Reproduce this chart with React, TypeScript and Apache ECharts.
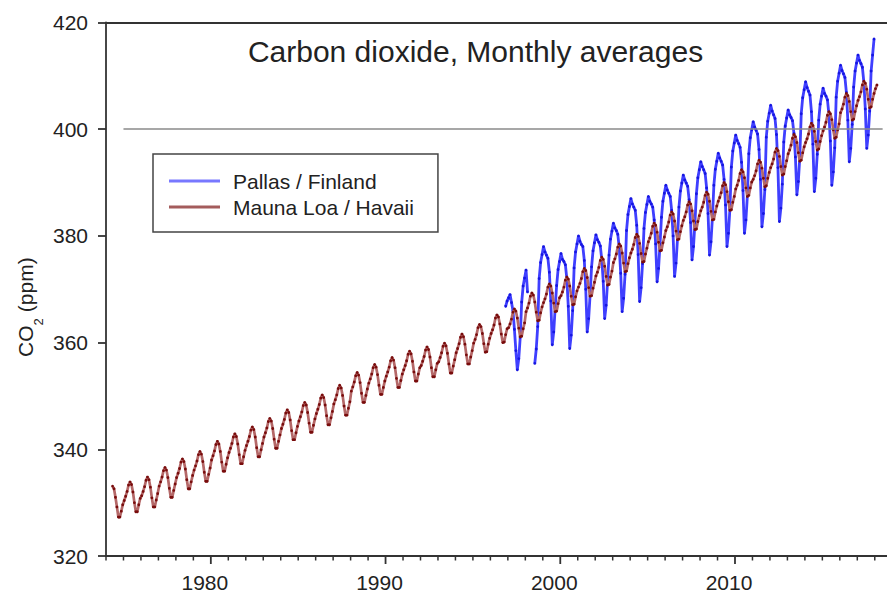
import React, { useEffect, useRef } from "react";
import * as echarts from "echarts";

// ---------- data ----------
const titleText = "Carbon dioxide, Monthly averages";
const pallasName = "Pallas / Finland";
const maunaLoaName = "Mauna Loa / Havaii";

const xMin = 1974;
const xMax = 2018.7;
const xLabelYears = [1980, 1990, 2000, 2010];
const minorTickYears = [
  1974, 1975, 1976, 1977, 1978, 1979, 1980, 1981, 1982, 1983, 1984, 1985, 1986, 1987, 1988, 1989,
  1990, 1991, 1992, 1993, 1994, 1995, 1996, 1997, 1998, 1999, 2000, 2001, 2002, 2003, 2004, 2005,
  2006, 2007, 2008, 2009, 2010, 2011, 2012, 2013, 2014, 2015, 2016, 2017, 2018,
];
const yMin = 320;
const yMax = 420;
const yStep = 20;

const referenceLevel = 400;
const referenceLineStart = 1975.0;
const referenceLineEnd = 2018.45;

// Mauna Loa monthly means, one row per year (Jan..Dec), first row = 1974
const maunaLoaStartYear = 1974;
const maunaLoaMonthly: (number | null)[][] = [
  [null, null, null, null, 333.1, 332.6, 331.0, 329.2, 327.3, 327.3, 328.4, 329.6],
  [330.4, 331.2, 332.1, 333.3, 333.9, 333.4, 332.0, 330.0, 328.3, 328.3, 329.6, 330.8],
  [331.3, 332.1, 333.0, 334.2, 334.8, 334.3, 332.9, 330.9, 329.2, 329.2, 330.5, 331.7],
  [333.1, 333.9, 334.8, 336.0, 336.6, 336.1, 334.7, 332.7, 331.0, 331.0, 332.3, 333.5],
  [334.7, 335.5, 336.4, 337.6, 338.2, 337.7, 336.3, 334.3, 332.6, 332.6, 333.9, 335.1],
  [336.1, 336.9, 337.8, 339.0, 339.6, 339.1, 337.7, 335.7, 334.0, 334.0, 335.3, 336.5],
  [338.0, 338.8, 339.7, 340.9, 341.5, 341.0, 339.6, 337.6, 335.9, 335.9, 337.2, 338.4],
  [339.4, 340.2, 341.1, 342.3, 342.9, 342.4, 341.0, 339.0, 337.3, 337.3, 338.6, 339.8],
  [340.7, 341.5, 342.4, 343.6, 344.2, 343.7, 342.3, 340.3, 338.6, 338.6, 339.9, 341.1],
  [342.3, 343.1, 344.0, 345.2, 345.8, 345.3, 343.9, 341.9, 340.2, 340.2, 341.5, 342.7],
  [343.9, 344.7, 345.6, 346.8, 347.4, 346.9, 345.5, 343.5, 341.8, 341.8, 343.1, 344.3],
  [345.3, 346.1, 347.0, 348.2, 348.8, 348.3, 346.9, 344.9, 343.2, 343.2, 344.5, 345.7],
  [346.7, 347.5, 348.4, 349.6, 350.2, 349.7, 348.3, 346.3, 344.6, 344.6, 345.9, 347.1],
  [348.5, 349.3, 350.2, 351.4, 352.0, 351.5, 350.1, 348.1, 346.4, 346.4, 347.7, 348.9],
  [350.9, 351.7, 352.6, 353.8, 354.4, 353.9, 352.5, 350.5, 348.8, 348.8, 350.1, 351.3],
  [352.4, 353.2, 354.1, 355.3, 355.9, 355.4, 354.0, 352.0, 350.3, 350.3, 351.6, 352.8],
  [353.7, 354.5, 355.4, 356.6, 357.2, 356.7, 355.3, 353.3, 351.6, 351.6, 352.9, 354.1],
  [354.9, 355.7, 356.6, 357.8, 358.4, 357.9, 356.5, 354.5, 352.8, 352.8, 354.1, 355.3],
  [355.7, 356.5, 357.4, 358.6, 359.2, 358.7, 357.3, 355.3, 353.6, 353.6, 354.9, 356.1],
  [356.4, 357.2, 358.1, 359.3, 359.9, 359.4, 358.0, 356.0, 354.3, 354.3, 355.6, 356.8],
  [358.1, 358.9, 359.8, 361.0, 361.6, 361.1, 359.7, 357.7, 356.0, 356.0, 357.3, 358.5],
  [359.9, 360.6, 361.5, 362.8, 363.4, 363.0, 361.7, 359.8, 358.2, 358.3, 359.7, 360.8],
  [361.7, 362.4, 363.3, 364.6, 365.2, 364.8, 363.5, 361.6, 360.0, 360.1, 361.5, 362.6],
  [362.8, 363.5, 364.4, 365.7, 366.3, 365.9, 364.6, 362.7, 361.1, 361.2, 362.6, 363.7],
  [365.8, 366.5, 367.4, 368.7, 369.3, 368.9, 367.6, 365.7, 364.1, 364.2, 365.6, 366.7],
  [367.5, 368.2, 369.1, 370.4, 371.0, 370.6, 369.3, 367.4, 365.8, 365.9, 367.3, 368.4],
  [368.8, 369.5, 370.4, 371.7, 372.3, 371.9, 370.6, 368.7, 367.1, 367.2, 368.6, 369.7],
  [370.4, 371.1, 372.0, 373.3, 373.9, 373.5, 372.2, 370.3, 368.7, 368.8, 370.2, 371.3],
  [372.5, 373.2, 374.1, 375.4, 376.0, 375.6, 374.3, 372.4, 370.8, 370.9, 372.3, 373.4],
  [375.0, 375.7, 376.6, 377.9, 378.5, 378.1, 376.8, 374.9, 373.3, 373.4, 374.8, 375.9],
  [376.8, 377.5, 378.4, 379.7, 380.3, 379.9, 378.6, 376.7, 375.1, 375.2, 376.6, 377.7],
  [378.9, 379.6, 380.5, 381.8, 382.4, 382.0, 380.7, 378.8, 377.2, 377.3, 378.7, 379.8],
  [381.0, 381.7, 382.6, 383.9, 384.5, 384.1, 382.8, 380.9, 379.3, 379.4, 380.8, 381.9],
  [382.9, 383.6, 384.5, 385.8, 386.4, 386.0, 384.7, 382.8, 381.2, 381.3, 382.7, 383.8],
  [384.7, 385.4, 386.3, 387.6, 388.2, 387.8, 386.5, 384.6, 383.0, 383.1, 384.5, 385.6],
  [386.5, 387.2, 388.1, 389.4, 390.0, 389.6, 388.3, 386.4, 384.8, 384.9, 386.3, 387.4],
  [388.8, 389.5, 390.4, 391.7, 392.4, 392.0, 390.9, 389.0, 387.4, 387.6, 389.0, 390.1],
  [390.6, 391.3, 392.2, 393.5, 394.2, 393.8, 392.7, 390.8, 389.2, 389.4, 390.8, 391.9],
  [392.8, 393.5, 394.4, 395.7, 396.4, 396.0, 394.9, 393.0, 391.4, 391.6, 393.0, 394.1],
  [395.4, 396.1, 397.0, 398.3, 399.0, 398.6, 397.5, 395.6, 394.0, 394.2, 395.6, 396.7],
  [397.5, 398.2, 399.1, 400.4, 401.1, 400.7, 399.6, 397.7, 396.1, 396.3, 397.7, 398.8],
  [399.7, 400.4, 401.3, 402.6, 403.3, 402.9, 401.8, 399.9, 398.3, 398.5, 399.9, 401.0],
  [403.1, 403.8, 404.7, 406.0, 406.7, 406.3, 405.2, 403.3, 401.7, 401.9, 403.3, 404.4],
  [405.4, 406.1, 407.0, 408.3, 409.0, 408.6, 407.5, 405.6, 404.0, 404.2, 405.6, 406.7],
  [407.6, 408.3],
];

// Pallas monthly means, one row per year (Jan..Dec), first row = 1996
const pallasStartYear = 1996;
const pallasMonthly: (number | null)[][] = [
  [null, null, null, null, null, null, null, null, null, null, 366.8, 367.8],
  [368.4, 369.0, 367.5, 366.0, 362.5, 358.5, 354.9, 357.0, 361.0, 367.6, 370.6, 372.1],
  [373.6, 369.5, null, null, null, null, 356.1, 358.8, 363.0, 372.0, 375.0, 376.5],
  [378.0, 377.0, 376.4, 375.8, 373.2, 367.8, 359.6, 362.0, 366.5, 370.7, 373.7, 375.2],
  [376.7, 375.6, 375.2, 374.6, 372.0, 366.8, 358.9, 361.4, 366.0, 374.0, 377.0, 378.5],
  [380.0, 379.0, 378.4, 378.0, 375.4, 370.0, 362.0, 364.5, 369.0, 374.2, 377.2, 378.7],
  [380.2, 379.3, 378.8, 378.1, 375.6, 371.5, 364.5, 367.0, 371.5, 376.4, 379.4, 380.9],
  [382.4, 381.5, 381.0, 380.3, 377.8, 373.0, 365.8, 368.3, 372.8, 381.0, 384.0, 385.5],
  [387.0, 386.0, 385.4, 384.8, 382.0, 376.5, 367.7, 370.3, 374.8, 381.4, 384.4, 385.9],
  [387.4, 386.5, 386.0, 385.4, 383.0, 378.5, 371.4, 373.9, 378.4, 383.5, 386.5, 388.0],
  [389.5, 388.6, 388.0, 387.4, 384.8, 380.0, 372.4, 374.9, 379.4, 385.4, 388.4, 389.9],
  [391.4, 390.5, 389.9, 389.3, 386.8, 382.5, 375.5, 378.0, 382.5, 387.9, 390.9, 392.4],
  [393.9, 393.0, 392.4, 391.7, 389.0, 384.2, 376.4, 378.9, 383.4, 389.5, 392.5, 394.0],
  [395.5, 394.6, 394.0, 393.3, 390.6, 385.8, 378.0, 380.5, 385.0, 392.9, 395.9, 397.4],
  [398.9, 397.9, 397.3, 396.6, 393.8, 388.5, 380.5, 383.0, 387.5, 395.4, 398.4, 399.9],
  [401.4, 400.4, 399.8, 399.1, 396.2, 390.6, 381.7, 384.2, 388.7, 398.5, 401.5, 403.0],
  [404.5, 403.4, 402.7, 402.0, 399.0, 392.8, 382.7, 385.2, 389.7, 397.6, 400.6, 402.1],
  [403.6, 402.7, 402.2, 401.6, 399.2, 394.8, 387.7, 390.2, 394.7, 402.9, 405.9, 407.4],
  [408.9, 407.8, 407.1, 406.4, 403.3, 397.2, 388.3, 390.8, 395.3, 401.7, 404.7, 406.2],
  [407.7, 406.7, 406.2, 405.5, 402.8, 397.8, 389.5, 392.0, 396.5, 406.0, 409.0, 410.5],
  [412.0, 411.0, 410.4, 409.7, 406.9, 401.7, 393.9, 396.4, 400.9, 407.9, 410.9, 412.4],
  [413.9, 412.9, 412.3, 411.6, 408.8, 403.8, 396.4, 398.9, 403.4, 410.9, 413.9, 416.9],
];

// ---------- helpers ----------
function toPoints(rows: (number | null)[][], startYear: number) {
  const pts: any[] = [];
  rows.forEach((row, i) => {
    row.forEach((v, m) => {
      const x = startYear + i + (m + 0.5) / 12;
      if (v === null) {
        if (pts.length) pts.push([x, "-"]);
      } else {
        pts.push([x, v]);
      }
    });
  });
  return pts;
}

const FONT = "'Liberation Sans', Arial, Helvetica, sans-serif";
const AXIS_COLOR = "#333333";
const TEXT_COLOR = "#222222";

export default function App() {
  const ref = useRef<HTMLDivElement>(null);

  useEffect(() => {
    if (!ref.current) return;
    const chart = echarts.init(ref.current, null, { renderer: "svg" });

    const sharedX = {
      type: "value",
      min: xMin,
      max: xMax,
      splitLine: { show: false },
    };

    const baseGraphic: any[] = [
      {
        type: "text",
        x: 475.5,
        y: 51,
        silent: true,
        style: {
          text: titleText,
          fontSize: 30,
          fontFamily: FONT,
          fill: TEXT_COLOR,
          align: "center",
          verticalAlign: "middle",
        },
      },
      {
        type: "group",
        x: 25,
        y: 307,
        rotation: Math.PI / 2,
        silent: true,
        children: [
          {
            type: "text",
            x: -50,
            y: 0,
            style: { text: "CO", fontSize: 21, fontFamily: FONT, fill: TEXT_COLOR, align: "left", verticalAlign: "middle" },
          },
          {
            type: "text",
            x: -18.5,
            y: 13,
            style: { text: "2", fontSize: 13, fontFamily: FONT, fill: TEXT_COLOR, align: "left", verticalAlign: "middle" },
          },
          {
            type: "text",
            x: -11,
            y: 0,
            style: { text: " (ppm)", fontSize: 21, fontFamily: FONT, fill: TEXT_COLOR, align: "left", verticalAlign: "middle" },
          },
        ],
      },
    ];

    const option: any = {
      animation: false,
      backgroundColor: "#ffffff",
      textStyle: { fontFamily: FONT },
      grid: { left: 106, right: 0, top: 22.5, bottom: 42, containLabel: false },
      legend: {
        orient: "vertical",
        left: 153,
        top: 154,
        itemWidth: 51,
        itemHeight: 3,
        itemGap: 5,
        padding: [16.5, 24, 14.5, 16],
        borderColor: "#444444",
        borderWidth: 1.5,
        selectedMode: false,
        textStyle: { fontSize: 21, color: TEXT_COLOR, fontFamily: FONT, padding: [0, 0, 0, 8] },
        data: [
          { name: pallasName, icon: "rect", itemStyle: { color: "#7878ff" } },
          { name: maunaLoaName, icon: "rect", itemStyle: { color: "#a45c5c" } },
        ],
      },
      graphic: baseGraphic,
      xAxis: [
        {
          ...sharedX,
          position: "bottom",
          axisLine: { show: true, onZero: false, lineStyle: { color: AXIS_COLOR, width: 1.8 } },
          axisTick: { show: false },
          axisLabel: {
            customValues: xLabelYears,
            fontSize: 21,
            color: TEXT_COLOR,
            fontFamily: FONT,
            margin: 16,
            padding: [0, 12, 0, 0],
            formatter: (v: number) => String(Math.round(v)),
          },
        },
        {
          ...sharedX,
          position: "top",
          axisLine: { show: true, onZero: false, lineStyle: { color: AXIS_COLOR, width: 1.8 } },
          axisTick: { show: false },
          axisLabel: { show: false },
        },
      ],
      yAxis: {
        type: "value",
        min: yMin,
        max: yMax,
        interval: yStep,
        axisLine: { show: true, onZero: false, lineStyle: { color: AXIS_COLOR, width: 1.8 } },
        axisTick: { show: true, length: 8, lineStyle: { color: AXIS_COLOR, width: 1.8 } },
        axisLabel: { fontSize: 21, color: TEXT_COLOR, fontFamily: FONT, margin: 18 },
        splitLine: { show: false },
      },
      series: [
        {
          name: pallasName,
          type: "line",
          xAxisIndex: 0,
          data: toPoints(pallasMonthly, pallasStartYear),
          symbol: "circle",
          symbolSize: 2.8,
          showSymbol: true,
          showAllSymbol: true,
          connectNulls: false,
          silent: true,
          lineStyle: { color: "#3f3fff", width: 2.8 },
          itemStyle: { color: "#1616e0" },
          markLine: {
            silent: true,
            symbol: ["none", "none"],
            label: { show: false },
            lineStyle: { color: "#8a8a8a", width: 1.5, type: "solid" },
            data: [[{ coord: [referenceLineStart, referenceLevel] }, { coord: [referenceLineEnd, referenceLevel] }]],
          },
          z: 2,
        },
        {
          name: maunaLoaName,
          type: "line",
          xAxisIndex: 0,
          data: toPoints(maunaLoaMonthly, maunaLoaStartYear),
          symbol: "circle",
          symbolSize: 2.8,
          showSymbol: true,
          showAllSymbol: true,
          silent: true,
          lineStyle: { color: "#b46868", width: 2.7 },
          itemStyle: { color: "#780c0c" },
          z: 3,
        },
      ],
    };

    chart.setOption(option);

    // x-axis ticks: yearly minor ticks and longer decade ticks, positioned through the axis scale
    const yBase = chart.convertToPixel({ yAxisIndex: 0 }, yMin) as number;
    const tickLines = minorTickYears.map((yr) => {
      const x = chart.convertToPixel({ xAxisIndex: 0 }, yr) as number;
      const major = xLabelYears.indexOf(yr) >= 0;
      return {
        type: "line",
        silent: true,
        shape: { x1: x, y1: yBase, x2: x, y2: yBase + (major ? 8 : 4.5) },
        style: { stroke: AXIS_COLOR, lineWidth: major ? 1.8 : 1.5 },
      };
    });
    chart.setOption({ graphic: [...baseGraphic, ...tickLines] });

    return () => chart.dispose();
  }, []);

  return (
    <div
      ref={ref}
      style={{ position: "fixed", left: 0, top: 0, width: 887, height: 598, background: "#ffffff" }}
    />
  );
}
